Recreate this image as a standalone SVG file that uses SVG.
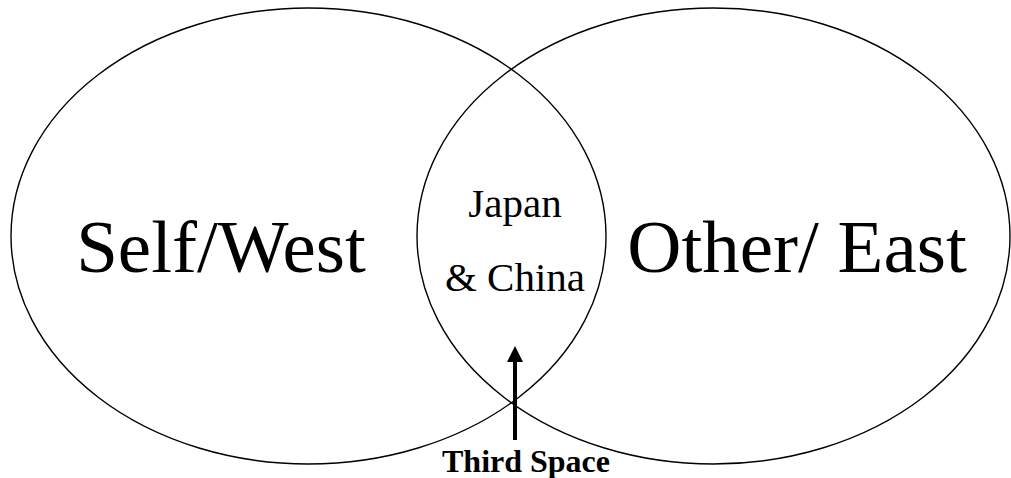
<svg xmlns="http://www.w3.org/2000/svg" width="1011" height="478" viewBox="0 0 1011 478">
<style>
.ell{fill:none;stroke:#000;stroke-width:1.4}
.big{font-family:"Liberation Serif","Times New Roman",serif;font-size:75px;fill:#000}
.mid{font-family:"Liberation Serif","Times New Roman",serif;font-size:41px;fill:#000}
.lbl{font-family:"Liberation Serif","Times New Roman",serif;font-size:32px;font-weight:bold;fill:#000}
</style>
<defs>
<marker id="ah" markerWidth="4" markerHeight="4" refX="0" refY="2" orient="auto" markerUnits="strokeWidth">
<path d="M0,0 L4,2 L0,4 Z" fill="#000"/>
</marker>
</defs>
<rect width="1011" height="478" fill="#fff"/>
<g id="self-west">
<ellipse class="ell" cx="308.5" cy="236" rx="297.5" ry="228"/>
<text class="big" x="221" y="272" text-anchor="middle">Self/West</text>
</g>
<g id="other-east">
<ellipse class="ell" cx="713.5" cy="236" rx="296.5" ry="228"/>
<text class="big" x="797" y="272" text-anchor="middle">Other/ East</text>
</g>
<g id="overlap">
<text class="mid" x="515" y="217" text-anchor="middle">Japan</text>
<text class="mid" x="515" y="291" text-anchor="middle">&amp; China</text>
</g>
<g id="connectors">
<line x1="515" y1="440" x2="515" y2="362" stroke="#000" stroke-width="4" marker-end="url(#ah)"/>
</g>
<g id="third-space">
<text class="lbl" x="526" y="472" text-anchor="middle">Third Space</text>
</g>
</svg>
